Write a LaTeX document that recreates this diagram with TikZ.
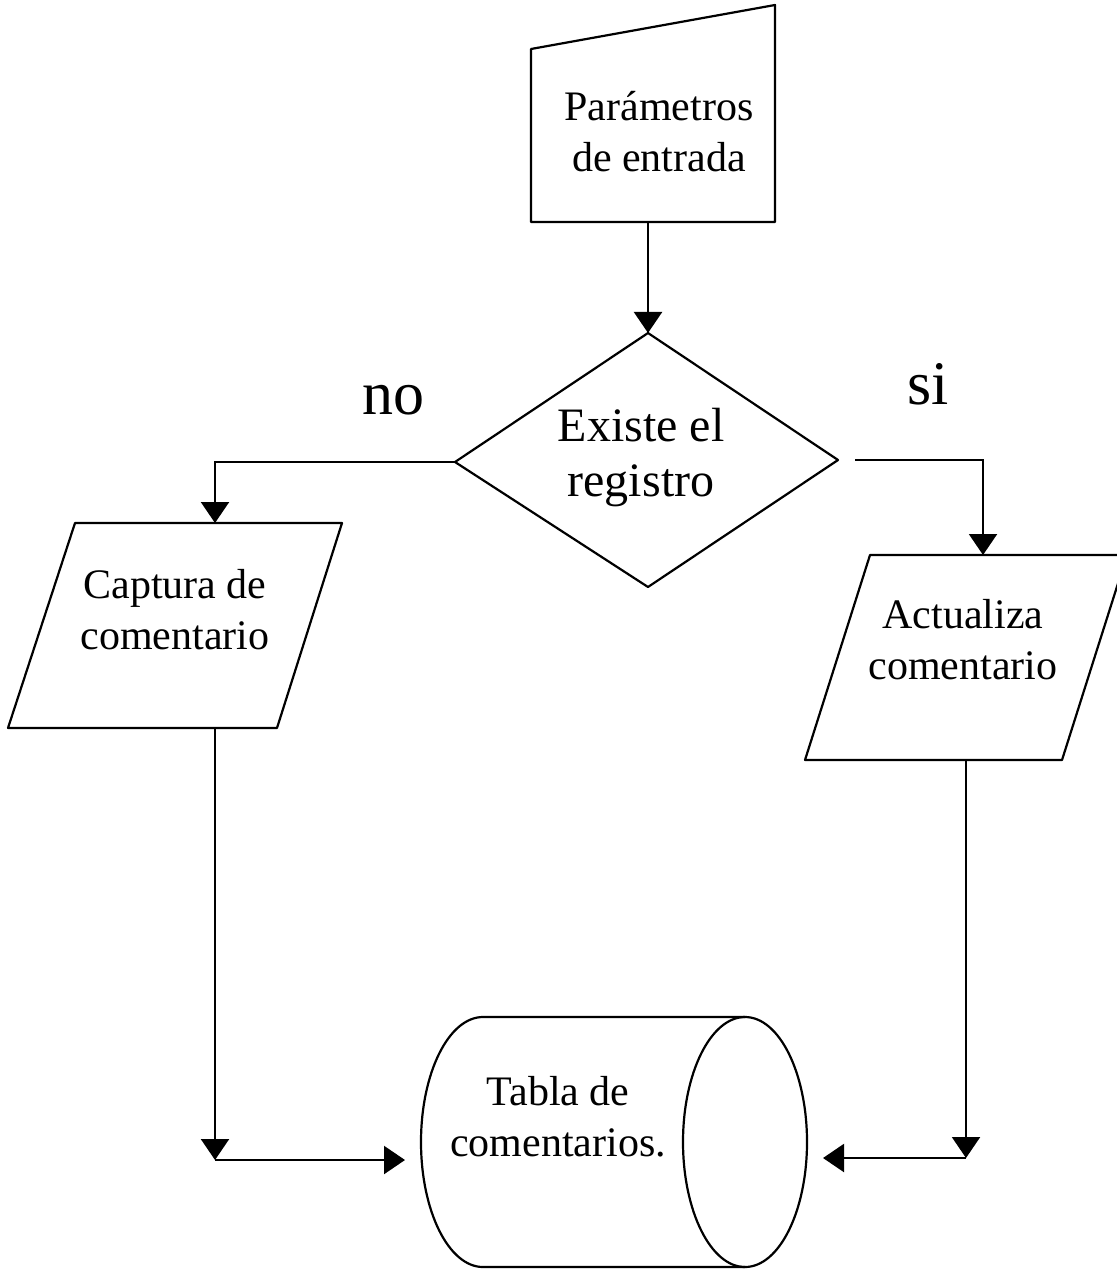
\documentclass[tikz,border=0pt]{standalone}
\usepackage{fontspec}
\setmainfont{Liberation Serif}
\usetikzlibrary{arrows.meta}

\tikzset{
    outline/.style={line width=1.1pt, line join=round},
    flow/.style={line width=1.1pt, -{Triangle[length=10.5pt, width=14pt]}},
    wire/.style={line width=1.1pt},
    boxtext/.style={align=center, inner sep=0pt, font=\fontsize{21}{25.5}\selectfont},
    asktext/.style={align=center, inner sep=0pt, font=\fontsize{24}{27.5}\selectfont},
    answer/.style={inner sep=0pt, font=\fontsize{31}{36}\selectfont},
}

\begin{document}
\begin{tikzpicture}[x=0.5pt, y=-0.5pt]
    \useasboundingbox (0, 0) rectangle (1116, 1272);

    % parametros de entrada
    \coordinate (m0) at (531, 49);
    \coordinate (m1) at (775, 5);
    \coordinate (m2) at (775, 222);
    \coordinate (m3) at (531, 222);
    \draw[outline] (m0) -- (m1) -- (m2) -- (m3) -- cycle;
    \node[boxtext] (param) at (659, 132) {Parámetros\\de entrada};

    % pregunta
    \coordinate (d0) at (648, 333);
    \coordinate (d1) at (838, 460);
    \coordinate (d2) at (648, 587);
    \coordinate (d3) at (455, 462);
    \draw[outline] (d0) -- (d1) -- (d2) -- (d3) -- cycle;
    \node[asktext] (ask) at (641, 458) {Existe el\\registro};
    \node[answer] (no) at (393, 400) {no};
    \node[answer] (si) at (928, 384) {si};

    % captura
    \coordinate (c0) at (75, 523);
    \coordinate (c1) at (342, 523);
    \coordinate (c2) at (277, 728);
    \coordinate (c3) at (8, 728);
    \draw[outline] (c0) -- (c1) -- (c2) -- (c3) -- cycle;
    \node[boxtext] (capture) at (175, 610) {Captura de\\comentario};

    % actualiza
    \coordinate (a0) at (870, 555);
    \coordinate (a1) at (1127, 555);
    \coordinate (a2) at (1062, 760);
    \coordinate (a3) at (805, 760);
    \draw[outline] (a0) -- (a1) -- (a2) -- (a3) -- cycle;
    \node[boxtext] (update) at (963, 640) {Actualiza\\comentario};

    % tabla
    \coordinate (t0) at (745, 1017);
    \coordinate (t1) at (483, 1017);
    \coordinate (t2) at (745, 1267);
    \draw[outline] (745, 1142) ellipse [x radius=31pt, y radius=62.5pt];
    \draw[outline] (t0) -- (t1) arc[start angle=90, end angle=270, x radius=31pt, y radius=62.5pt] -- (t2);
    \node[boxtext] (table) at (558, 1117) {Tabla de\\comentarios.};

    % conexiones
    \coordinate (paramout) at (648, 222);
    \coordinate (noturn) at (215, 462);
    \coordinate (capin) at (215, 523);
    \coordinate (sistart) at (855, 460);
    \coordinate (siturn) at (983, 460);
    \coordinate (updin) at (983, 555);
    \coordinate (capout) at (215, 728);
    \coordinate (capturn) at (215, 1160);
    \coordinate (tableleft) at (405, 1160);
    \coordinate (updout) at (966, 760);
    \coordinate (updturn) at (966, 1158);
    \coordinate (tableright) at (823, 1158);

    \draw[flow] (paramout) -- (d0);
    \draw[flow] (d3) -- (noturn) -- (capin);
    \draw[flow] (sistart) -- (siturn) -- (updin);
    \draw[flow] (capout) -- (capturn);
    \draw[flow] (capturn) -- (tableleft);
    \draw[flow] (updout) -- (updturn);
    \draw[flow] (updturn) -- (tableright);

\end{tikzpicture}
\end{document}
